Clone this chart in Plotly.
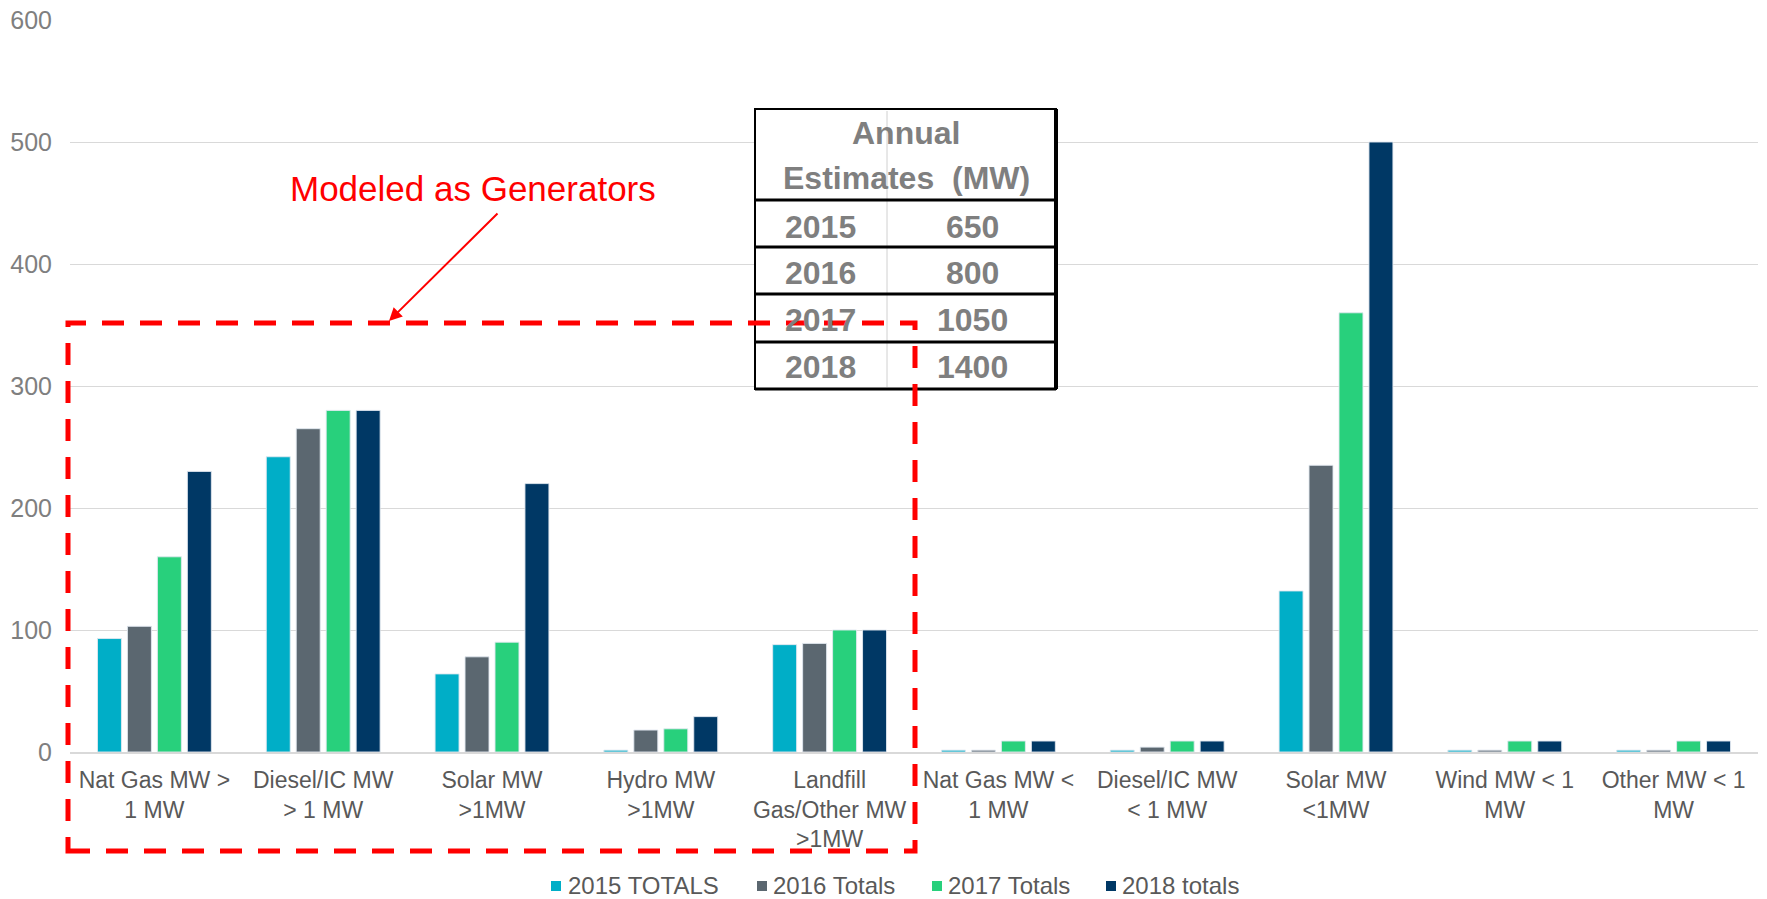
import plotly.graph_objects as go

# Category labels (two or three lines each) on the x axis
categories = [
    "Nat Gas MW &gt;<br>1 MW",
    "Diesel/IC MW<br>&gt; 1 MW",
    "Solar MW<br>&gt;1MW",
    "Hydro MW<br>&gt;1MW",
    "Landfill<br>Gas/Other MW<br>&gt;1MW",
    "Nat Gas MW &lt;<br>1 MW",
    "Diesel/IC MW<br>&lt; 1 MW",
    "Solar MW<br>&lt;1MW",
    "Wind MW &lt; 1<br>MW",
    "Other MW &lt; 1<br>MW",
]

# Installed capacity by category (MW)
totals_2015 = [93, 242, 64, 1.5, 88, 1.5, 1.5, 132, 1.5, 1.5]
totals_2016 = [103, 265, 78, 18, 89, 1.5, 4, 235, 1.5, 1.5]
totals_2017 = [160, 280, 90, 19, 100, 9, 9, 360, 9, 9]
totals_2018 = [230, 280, 220, 29, 100, 9, 9, 500, 9, 9]

series_names = ["2015 TOTALS", "2016 Totals", "2017 Totals", "2018 totals"]
series_values = [totals_2015, totals_2016, totals_2017, totals_2018]
series_colors = ["#00AEC7", "#5B6770", "#28D07C", "#003865"]

# Annual estimate table
estimate_years = ["2015", "2016", "2017", "2018"]
estimate_mw = ["650", "800", "1050", "1400"]

y_ticks = [0, 100, 200, 300, 400, 500, 600]

FONT = "Liberation Sans, Arial, sans-serif"
W, H = 1767, 899
ML, MR, MT, MB = 70, 9, 20, 147
PW, PH = W - ML - MR, H - MT - MB


def xp(px):
    return (px - ML) / PW


def yp(py):
    return (H - MB - py) / PH


fig = go.Figure()
for name, vals, col in zip(series_names, series_values, series_colors):
    fig.add_trace(go.Bar(
        x=categories, y=vals, name=name, showlegend=False,
        marker=dict(color=col, line=dict(color="rgba(225,232,240,0.9)", width=1)),
    ))

shapes = []
# table body
t_left, t_right, t_top, t_bottom = 755, 1056, 109, 389
row_lines = [200, 247, 294, 342]
col_split = 887
shapes.append(dict(type="rect", xref="paper", yref="paper",
                   x0=xp(t_left), x1=xp(t_right), y0=yp(t_bottom), y1=yp(t_top),
                   fillcolor="white", line=dict(color="black", width=2), layer="above"))
shapes.append(dict(type="line", xref="paper", yref="paper",
                   x0=xp(col_split), x1=xp(col_split), y0=yp(t_bottom - 2), y1=yp(t_top + 2),
                   line=dict(color="#D0D0D0", width=1), layer="above"))
for ry in row_lines + [t_bottom]:
    shapes.append(dict(type="line", xref="paper", yref="paper",
                       x0=xp(t_left), x1=xp(t_right), y0=yp(ry), y1=yp(ry),
                       line=dict(color="black", width=3), layer="above"))
shapes.append(dict(type="line", xref="paper", yref="paper",
                   x0=xp(t_right), x1=xp(t_right), y0=yp(t_bottom), y1=yp(t_top),
                   line=dict(color="black", width=4), layer="above"))

# dashed box around the generator categories
shapes.append(dict(type="rect", xref="paper", yref="paper",
                   x0=xp(68), x1=xp(915), y0=yp(851), y1=yp(323),
                   line=dict(color="#FF0000", width=5, dash="22px,16px"),
                   fillcolor="rgba(0,0,0,0)", layer="above"))

annotations = []
tcol = "#7F7F7F"
tfont = dict(family=FONT, size=32, color=tcol, weight="bold")
annotations.append(dict(xref="paper", yref="paper", x=xp(906), y=yp(133), text="Annual",
                        showarrow=False, font=tfont, xanchor="center", yanchor="middle"))
annotations.append(dict(xref="paper", yref="paper", x=xp(906), y=yp(178),
                        text="Estimates\u00a0 (MW)",
                        showarrow=False, font=tfont, xanchor="center", yanchor="middle"))
row_centers = [227, 273, 320, 367]
for yr, mw, cy in zip(estimate_years, estimate_mw, row_centers):
    annotations.append(dict(xref="paper", yref="paper", x=xp(820), y=yp(cy), text=yr,
                            showarrow=False, font=tfont, xanchor="center", yanchor="middle"))
    annotations.append(dict(xref="paper", yref="paper", x=xp(972), y=yp(cy), text=mw,
                            showarrow=False, font=tfont, xanchor="center", yanchor="middle"))

annotations.append(dict(xref="paper", yref="paper", x=xp(473), y=yp(189),
                        text="Modeled as Generators", showarrow=False,
                        font=dict(family=FONT, size=35, color="#FF0000"),
                        xanchor="center", yanchor="middle"))
annotations.append(dict(xref="paper", yref="paper", x=xp(389), y=yp(321), text="",
                        showarrow=True, ax=110, ay=-109, axref="pixel", ayref="pixel",
                        arrowhead=2, arrowsize=1.3, arrowwidth=2, arrowcolor="#FF0000"))

# legend row along the bottom: square swatch followed by the series name
legend_swatch_left = [551, 757, 932, 1106]
legend_text_left = [566, 771, 946, 1120]
legend_y = 886
for name, col, sx, tx in zip(series_names, series_colors, legend_swatch_left, legend_text_left):
    shapes.append(dict(type="rect", xref="paper", yref="paper",
                       x0=xp(sx), x1=xp(sx + 10), y0=yp(legend_y + 5), y1=yp(legend_y - 5),
                       fillcolor=col, line=dict(width=0), layer="above"))
    annotations.append(dict(xref="paper", yref="paper", x=xp(tx), y=yp(legend_y - 1),
                            text=name, showarrow=False, xanchor="left", yanchor="middle",
                            font=dict(family=FONT, size=24, color="#595959")))

fig.update_layout(
    width=W, height=H,
    margin=dict(l=ML, r=MR, t=MT, b=MB, autoexpand=False),
    paper_bgcolor="white", plot_bgcolor="white",
    barmode="group", bargap=0.29, bargroupgap=0.2,
    font=dict(family=FONT, color="#595959"),
    shapes=shapes, annotations=annotations,
    showlegend=False,
    xaxis=dict(showgrid=False, showline=True, linecolor="#D9D9D9", linewidth=2,
               ticks="", automargin=False, ticklabelstandoff=6,
               tickfont=dict(family=FONT, size=23, color="#595959"),
               tickangle=0),
    yaxis=dict(range=[0, 600], tickvals=y_ticks, showgrid=True, gridcolor="#D9D9D9",
               gridwidth=1, zeroline=False, showline=False, ticks="",
               automargin=False, ticklabelstandoff=17,
               tickfont=dict(family=FONT, size=25, color="#7F7F7F")),
)

fig.write_html("out.html")
